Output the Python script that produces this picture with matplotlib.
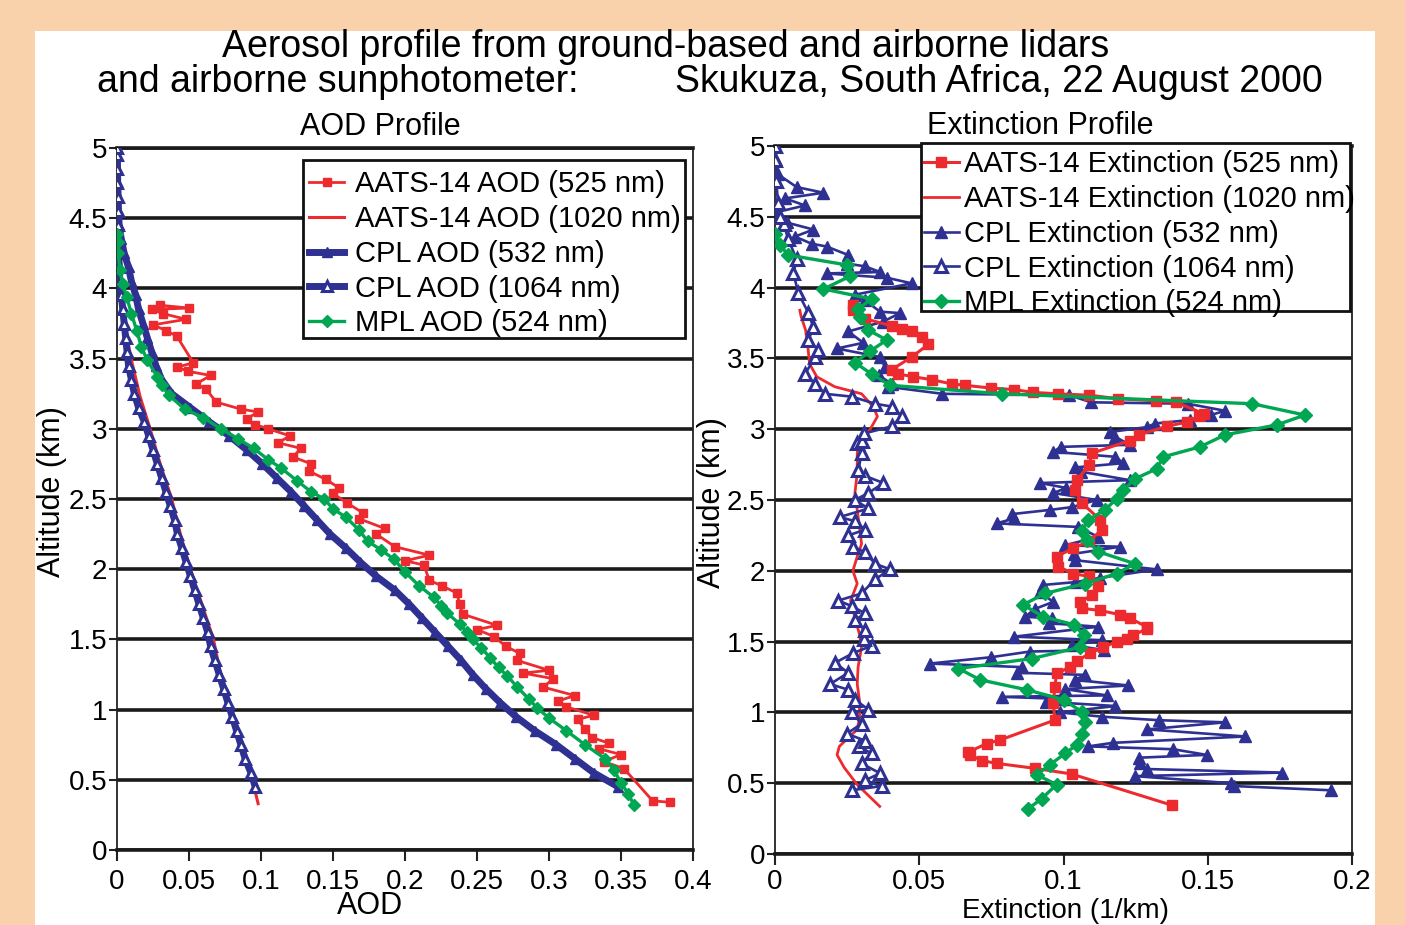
import matplotlib
matplotlib.use("Agg")
import matplotlib.pyplot as plt
from matplotlib.patches import Rectangle
from matplotlib.ticker import FuncFormatter, MultipleLocator

plt.rcParams['font.family'] = ['Liberation Sans', 'DejaVu Sans']

# ---------------- data: AOD profile (left) ----------------
aats525_aod_alt = [0.34, 0.35, 0.58, 0.63, 0.68, 0.72, 0.76, 0.80, 0.86, 0.93, 0.96, 1.02, 1.06, 1.10,
                   1.16, 1.22, 1.26, 1.28, 1.35, 1.40, 1.45, 1.52, 1.57, 1.60, 1.68, 1.75, 1.83, 1.88,
                   1.92, 2.03, 2.06, 2.10, 2.16, 2.25, 2.29, 2.36, 2.40, 2.47, 2.54, 2.58, 2.64, 2.70,
                   2.75, 2.80, 2.86, 2.90, 2.95, 3.00, 3.03, 3.07, 3.12, 3.14, 3.19, 3.28, 3.32, 3.38,
                   3.41, 3.44, 3.47, 3.66, 3.70, 3.74, 3.78, 3.82, 3.85, 3.86, 3.88]
aats525_aod = [0.384, 0.372, 0.352, 0.338, 0.350, 0.335, 0.342, 0.330, 0.325, 0.320, 0.331, 0.312, 0.306,
               0.318, 0.296, 0.303, 0.282, 0.300, 0.278, 0.280, 0.270, 0.262, 0.250, 0.264, 0.240, 0.238,
               0.236, 0.226, 0.217, 0.213, 0.200, 0.217, 0.193, 0.180, 0.186, 0.168, 0.171, 0.160, 0.150,
               0.154, 0.145, 0.133, 0.135, 0.122, 0.128, 0.112, 0.120, 0.105, 0.096, 0.090, 0.098, 0.086,
               0.069, 0.062, 0.055, 0.065, 0.049, 0.042, 0.053, 0.0415, 0.034, 0.025, 0.048, 0.032, 0.024,
               0.050, 0.030]

aats1020_aod_alt = [0.33, 0.50, 0.75, 1.00, 1.25, 1.50, 1.75, 2.00, 2.25, 2.50, 2.75, 3.00, 3.23, 3.49, 3.70, 3.87]
aats1020_aod = [0.098, 0.094, 0.087, 0.079, 0.072, 0.067, 0.059, 0.051, 0.044, 0.038, 0.030, 0.023, 0.016,
                0.010, 0.006, 0.004]

cpl_alt = [0.45, 0.55, 0.65, 0.75, 0.85, 0.95, 1.05, 1.15, 1.25, 1.35, 1.45, 1.55, 1.65, 1.75, 1.85, 1.95,
           2.05, 2.15, 2.25, 2.35, 2.45, 2.55, 2.65, 2.75, 2.85, 2.95, 3.05, 3.15, 3.25, 3.35, 3.45, 3.55,
           3.65, 3.75, 3.85, 3.95, 4.05, 4.15, 4.25, 4.35, 4.45, 4.55, 4.65, 4.75, 4.85, 4.95, 5.0]
cpl532_aod = [0.348, 0.331, 0.318, 0.305, 0.290, 0.277, 0.266, 0.256, 0.247, 0.239, 0.230, 0.221, 0.212,
              0.203, 0.193, 0.180, 0.169, 0.159, 0.148, 0.139, 0.130, 0.121, 0.111, 0.101, 0.090, 0.078,
              0.064, 0.051, 0.038, 0.031, 0.027, 0.024, 0.021, 0.018, 0.015, 0.013, 0.010, 0.008, 0.005,
              0.003, 0.0015, 0.001, 0.0008, 0.0005, 0.0003, 0.0002, 0.0]
cpl1064_aod = [0.096, 0.093, 0.089, 0.086, 0.083, 0.080, 0.077, 0.074, 0.071, 0.068, 0.065, 0.063, 0.060,
               0.057, 0.054, 0.051, 0.048, 0.045, 0.042, 0.040, 0.037, 0.034, 0.031, 0.028, 0.025, 0.022,
               0.019, 0.015, 0.012, 0.010, 0.008, 0.007, 0.006, 0.005, 0.004, 0.003, 0.002, 0.0016, 0.0012,
               0.001, 0.0008, 0.0006, 0.0004, 0.0003, 0.0002, 0.0001, 0.0]

mpl_aod_alt = [0.32, 0.40, 0.48, 0.57, 0.65, 0.75, 0.85, 0.94, 1.01, 1.075, 1.16, 1.24, 1.30, 1.37, 1.44,
               1.50, 1.55, 1.61, 1.69, 1.74, 1.80, 1.88, 1.98, 2.07, 2.14, 2.20, 2.28, 2.37, 2.43, 2.50,
               2.55, 2.63, 2.72, 2.78, 2.86, 2.93, 3.00, 3.08, 3.14, 3.24, 3.31, 3.37, 3.49, 3.58, 3.70,
               3.82, 3.94, 4.03, 4.13, 4.25, 4.33, 4.39]
mpl_aod = [0.359, 0.355, 0.350, 0.345, 0.339, 0.325, 0.312, 0.300, 0.292, 0.286, 0.278, 0.271, 0.265,
           0.259, 0.253, 0.247, 0.243, 0.238, 0.229, 0.225, 0.220, 0.210, 0.200, 0.1925, 0.183, 0.174,
           0.168, 0.159, 0.150, 0.144, 0.135, 0.125, 0.114, 0.105, 0.095, 0.084, 0.072, 0.060, 0.047,
           0.036, 0.031, 0.028, 0.021, 0.017, 0.0137, 0.010, 0.0067, 0.004, 0.002, 0.001, 0.0005, 0.0]

# ---------------- data: Extinction profile (right) ----------------
aats525_ext_alt = [0.345, 0.565, 0.605, 0.64, 0.66, 0.70, 0.72, 0.78, 0.805, 0.946, 1.065, 1.18, 1.275,
                   1.32, 1.36, 1.42, 1.46, 1.50, 1.52, 1.545, 1.59, 1.605, 1.665, 1.69, 1.72, 1.735, 1.78,
                   1.83, 1.89, 1.96, 1.98, 2.03, 2.10, 2.16, 2.21, 2.29, 2.36, 2.48, 2.57, 2.64, 2.75, 2.83,
                   2.92, 2.96, 3.02, 3.05, 3.09, 3.11, 3.19, 3.20, 3.215, 3.24, 3.25, 3.26, 3.28, 3.29, 3.31,
                   3.32, 3.35, 3.37, 3.39, 3.42, 3.51, 3.60, 3.65, 3.69, 3.71, 3.73, 3.78, 3.84, 3.88]
aats525_ext = [0.1375, 0.1028, 0.0901, 0.0768, 0.0716, 0.0676, 0.067, 0.0734, 0.078, 0.097, 0.0965, 0.097,
               0.0976, 0.1023, 0.1046, 0.1092, 0.1138, 0.1184, 0.1219, 0.1242, 0.1288, 0.1288, 0.123, 0.1196,
               0.1127, 0.1063, 0.1057, 0.110, 0.112, 0.109, 0.1034, 0.0982, 0.0976, 0.1034, 0.109, 0.1132,
               0.1127, 0.1063, 0.104, 0.1046, 0.109, 0.1098, 0.123, 0.126, 0.1358, 0.1427, 0.147, 0.1486,
               0.139, 0.132, 0.119, 0.109, 0.098, 0.0893, 0.083, 0.075, 0.0659, 0.0612, 0.0543, 0.048,
               0.0428, 0.0404, 0.0474, 0.0532, 0.0508, 0.0474, 0.0439, 0.0404, 0.0312, 0.0272, 0.0272]

aats1020_ext_alt = [0.336, 0.49, 0.61, 0.70, 0.76, 0.82, 0.88, 0.96, 1.08, 1.20, 1.32, 1.46, 1.55, 1.67,
                    1.79, 1.91, 2.00, 2.10, 2.19, 2.31, 2.43, 2.55, 2.69, 2.83, 2.92, 3.00, 3.09, 3.16, 3.25,
                    3.30, 3.37, 3.46, 3.58, 3.70, 3.80, 3.84]
aats1020_ext = [0.0363, 0.0285, 0.024, 0.0215, 0.0223, 0.0254, 0.0285, 0.0293, 0.0293, 0.0285, 0.0288, 0.030,
                0.0293, 0.0277, 0.0262, 0.0285, 0.027, 0.0285, 0.030, 0.0293, 0.0285, 0.0277, 0.0285, 0.0285,
                0.0293, 0.033, 0.0355, 0.034, 0.030, 0.0207, 0.0145, 0.012, 0.0114, 0.0106, 0.009, 0.0086]

cpl532_ext_alt = [0.45, 0.48, 0.50, 0.55, 0.575, 0.60, 0.64, 0.68, 0.70, 0.74, 0.76, 0.785, 0.83, 0.88, 0.93,
                  0.945, 0.97, 1.00, 1.045, 1.075, 1.095, 1.11, 1.12, 1.165, 1.19, 1.23, 1.265, 1.28, 1.32,
                  1.345, 1.39, 1.43, 1.44, 1.475, 1.51, 1.535, 1.605, 1.63, 1.665, 1.675, 1.73, 1.78, 1.85,
                  1.90, 1.92, 1.95, 2.01, 2.075, 2.12, 2.17, 2.18, 2.24, 2.31, 2.335, 2.37, 2.40, 2.43, 2.45,
                  2.50, 2.55, 2.585, 2.62, 2.64, 2.70, 2.73, 2.76, 2.805, 2.84, 2.875, 2.89, 2.945, 2.98,
                  3.015, 3.04, 3.065, 3.10, 3.13, 3.18, 3.19, 3.24, 3.25, 3.30, 3.32, 3.38, 3.44, 3.51, 3.57,
                  3.61, 3.69, 3.76, 3.82, 3.83, 3.91, 3.95, 4.03, 4.07, 4.10, 4.11, 4.15, 4.17, 4.23, 4.29,
                  4.31, 4.36, 4.41, 4.46, 4.53, 4.58, 4.63, 4.67, 4.71, 4.80, 4.90, 5.00]
cpl532_ext = [0.1927, 0.159, 0.158, 0.1248, 0.1756, 0.129, 0.1265, 0.126, 0.1496, 0.138, 0.1086, 0.117,
              0.163, 0.129, 0.156, 0.133, 0.1132, 0.0988, 0.118, 0.094, 0.100, 0.0786, 0.115, 0.1005, 0.1225,
              0.104, 0.1075, 0.084, 0.0855, 0.0537, 0.075, 0.0884, 0.114, 0.103, 0.1132, 0.083, 0.112, 0.095,
              0.096, 0.0867, 0.090, 0.0964, 0.092, 0.093, 0.104, 0.1127, 0.1323, 0.104, 0.1035, 0.1196,
              0.1005, 0.112, 0.105, 0.0768, 0.083, 0.082, 0.0953, 0.103, 0.1115, 0.0965, 0.101, 0.092, 0.123,
              0.106, 0.104, 0.1207, 0.118, 0.0965, 0.099, 0.123, 0.118, 0.116, 0.129, 0.1317, 0.1438, 0.151,
              0.156, 0.143, 0.1096, 0.102, 0.058, 0.039, 0.0404, 0.036, 0.0381, 0.0364, 0.0214, 0.0306,
              0.0254, 0.0375, 0.0433, 0.0364, 0.0312, 0.0277, 0.0474, 0.0387, 0.0179, 0.0364, 0.0312, 0.0249,
              0.0254, 0.0179, 0.0127, 0.0069, 0.0133, 0.004, 0.0, 0.0104, 0.0035, 0.0168, 0.0075, 0.001,
              0.0005, 0.0]

cpl1064_ext_alt = [0.45, 0.48, 0.52, 0.57, 0.64, 0.71, 0.76, 0.80, 0.85, 0.92, 1.00, 1.02, 1.09, 1.16, 1.20,
                   1.28, 1.35, 1.42, 1.47, 1.52, 1.58, 1.65, 1.70, 1.75, 1.79, 1.84, 1.94, 2.01, 2.05, 2.13,
                   2.17, 2.25, 2.29, 2.35, 2.38, 2.44, 2.50, 2.55, 2.62, 2.67, 2.71, 2.83, 2.90, 2.92, 2.97,
                   3.02, 3.09, 3.16, 3.18, 3.23, 3.25, 3.32, 3.39, 3.51, 3.56, 3.63, 3.72, 3.82, 3.96, 4.10,
                   4.20, 4.34, 4.45, 4.50, 4.60, 4.75, 4.90, 5.00]
cpl1064_ext = [0.0266, 0.037, 0.0312, 0.0364, 0.030, 0.0335, 0.029, 0.0312, 0.0249, 0.030, 0.0266, 0.0324,
               0.0277, 0.0254, 0.0191, 0.0254, 0.0208, 0.0272, 0.0335, 0.031, 0.0312, 0.0277, 0.0312, 0.0266,
               0.0220, 0.030, 0.0347, 0.0399, 0.0347, 0.0312, 0.0272, 0.0254, 0.0312, 0.0277, 0.0225, 0.0324,
               0.0277, 0.0324, 0.0376, 0.0312, 0.0289, 0.030, 0.0283, 0.030, 0.031, 0.0404, 0.0439, 0.0404,
               0.0347, 0.0266, 0.0173, 0.0139, 0.0104, 0.0139, 0.015, 0.0116, 0.0133, 0.0116, 0.0081, 0.0064,
               0.0075, 0.0046, 0.003, 0.0017, 0.001, 0.0005, 0.0, 0.0]

mpl_ext_alt = [0.32, 0.39, 0.49, 0.56, 0.63, 0.71, 0.77, 0.85, 0.93, 1.005, 1.09, 1.16, 1.23, 1.31, 1.38,
               1.46, 1.545, 1.62, 1.675, 1.76, 1.84, 1.91, 1.98, 2.05, 2.135, 2.22, 2.28, 2.36, 2.43, 2.51,
               2.57, 2.65, 2.72, 2.805, 2.875, 2.96, 3.03, 3.10, 3.18, 3.25, 3.31, 3.39, 3.47, 3.55, 3.63,
               3.70, 3.79, 3.85, 3.92, 3.99, 4.08, 4.16, 4.23, 4.30, 4.38]
mpl_ext = [0.0878, 0.0924, 0.0976, 0.0907, 0.0953, 0.1005, 0.1046, 0.1063, 0.1075, 0.1063, 0.100, 0.0872,
           0.0711, 0.0636, 0.089, 0.1057, 0.107, 0.1035, 0.093, 0.086, 0.0936, 0.1075, 0.1184, 0.1248,
           0.112, 0.108, 0.1063, 0.1086, 0.1144, 0.1184, 0.1207, 0.1248, 0.1323, 0.1346, 0.1473, 0.156,
           0.1739, 0.1837, 0.1654, 0.0786, 0.0399, 0.0335, 0.0277, 0.0329, 0.0387, 0.0324, 0.0295, 0.0289,
           0.0335, 0.0168, 0.026, 0.0249, 0.0046, 0.0017, 0.0]

left_labels = ["AATS-14 AOD (525 nm)", "AATS-14 AOD (1020 nm)", "CPL AOD (532 nm)",
               "CPL AOD (1064 nm)", "MPL AOD (524 nm)"]
right_labels = ["AATS-14 Extinction (525 nm)", "AATS-14 Extinction (1020 nm)", "CPL Extinction (532 nm)",
                "CPL Extinction (1064 nm)", "MPL Extinction (524 nm)"]
y_ticks = [0, 0.5, 1, 1.5, 2, 2.5, 3, 3.5, 4, 4.5, 5]

RED = '#ED2B2F'
BLUE = '#2E3192'
GREEN = '#00A651'
PEACH = '#F9D2AC'

W, H = 1405, 925
fig = plt.figure(figsize=(W / 100, H / 100), dpi=100, facecolor=PEACH)
fig.patches.append(Rectangle((35 / W, 0), (1375 - 35) / W, 1 - 31 / H, transform=fig.transFigure,
                             facecolor='white', edgecolor='none', zorder=-10))


def px_axes(x0, x1, ytop, ybot):
    return fig.add_axes([x0 / W, 1 - ybot / H, (x1 - x0) / W, (ybot - ytop) / H])


fmt = FuncFormatter(lambda v, p: '%g' % v)


def style(ax, xmax, xstep, xpad):
    ax.set_facecolor('white')
    ax.set_xlim(0, xmax)
    ax.set_ylim(0, 5)
    ax.set_yticks(y_ticks)
    ax.xaxis.set_major_locator(MultipleLocator(xstep))
    ax.xaxis.set_major_formatter(fmt)
    ax.yaxis.set_major_formatter(fmt)
    ax.tick_params(axis='both', labelsize=20, direction='out', color='#222222', width=1.5)
    ax.tick_params(axis='x', length=8, pad=xpad)
    ax.tick_params(axis='y', length=6, pad=1)
    for side in ('left', 'right'):
        ax.spines[side].set_linewidth(1.3)
        ax.spines[side].set_color('#222222')
    for side in ('top', 'bottom'):
        ax.spines[side].set_linewidth(2.6)
        ax.spines[side].set_color('#1a1a1a')
    ax.set_axisbelow(True)
    ax.yaxis.grid(True, color='#1a1a1a', linewidth=2.6)
    ax.xaxis.grid(False)


def legend_box(ax, x0, x1, ytop, ybot, anchor_x, anchor_y, textpad):
    ax.add_patch(Rectangle((x0 / W, 1 - ybot / H), (x1 - x0) / W, (ybot - ytop) / H,
                           transform=fig.transFigure, facecolor='white', edgecolor='#111111',
                           linewidth=2.0, clip_on=False, zorder=6))
    leg = ax.legend(loc='upper left', bbox_to_anchor=(anchor_x / W, 1 - anchor_y / H),
                    bbox_transform=fig.transFigure, fontsize=21, frameon=False, borderpad=0,
                    borderaxespad=0, labelspacing=0.23, handlelength=1.2, handletextpad=textpad)
    leg.set_zorder(7)
    return leg


# ---------------- left: AOD profile ----------------
axL = px_axes(117, 693, 148, 850)
style(axL, 0.4, 0.05, 6)
axL.plot(aats525_aod, aats525_aod_alt, color=RED, lw=2.0, marker='s', ms=6, mec=RED, mfc=RED,
         label=left_labels[0], zorder=3)
axL.plot(aats1020_aod, aats1020_aod_alt, color=RED, lw=2.2, label=left_labels[1], zorder=3)
axL.plot(cpl532_aod, cpl_alt, color=BLUE, lw=5, marker='^', ms=7.5, mec=BLUE, mfc=BLUE,
         label=left_labels[2], zorder=4)
axL.plot(cpl1064_aod, cpl_alt, color=BLUE, lw=5, marker='^', ms=7.5, mec=BLUE, mfc='white', mew=2.2,
         label=left_labels[3], zorder=4)
axL.plot(mpl_aod, mpl_aod_alt, color=GREEN, lw=2.4, marker='D', ms=6.5, mec=GREEN, mfc=GREEN,
         label=left_labels[4], zorder=5)
axL.set_xlabel('AOD', fontsize=22)
axL.xaxis.set_label_coords(0.44, -0.080)
axL.xaxis.label.set_va('center')
axL.set_ylabel('Altitude (km)', fontsize=22)
axL.yaxis.set_label_coords(-0.112, 0.51)
axL.yaxis.label.set_va('center')
axL.text(0.457, 1.03, 'AOD Profile', transform=axL.transAxes, ha='center', va='center', fontsize=22)
legend_box(axL, 303, 685, 160, 338, 309, 170.5, 0.38)

# ---------------- right: Extinction profile ----------------
axR = px_axes(775, 1352, 146, 854)
style(axR, 0.2, 0.05, 3)
axR.plot(aats525_ext, aats525_ext_alt, color=RED, lw=2.2, marker='s', ms=6.5, mec=RED, mfc=RED,
         label=right_labels[0], zorder=4)
axR.plot(aats1020_ext, aats1020_ext_alt, color=RED, lw=2.0, label=right_labels[1], zorder=3)
axR.plot(cpl532_ext, cpl532_ext_alt, color=BLUE, lw=1.9, marker='^', ms=9, mec=BLUE, mfc=BLUE,
         label=right_labels[2], zorder=3)
axR.plot(cpl1064_ext, cpl1064_ext_alt, color=BLUE, lw=1.9, marker='^', ms=9, mec=BLUE, mfc='white',
         mew=2.2, label=right_labels[3], zorder=3)
axR.plot(mpl_ext, mpl_ext_alt, color=GREEN, lw=2.4, marker='D', ms=7.5, mec=GREEN, mfc=GREEN,
         label=right_labels[4], zorder=5)
axR.set_xlabel('Extinction (1/km)', fontsize=20)
axR.xaxis.set_label_coords(0.503, -0.0985)
axR.xaxis.label.set_va('bottom')
axR.set_ylabel('Altitude (km)', fontsize=22)
axR.yaxis.set_label_coords(-0.109, 0.496)
axR.yaxis.label.set_va('center')
axR.text(0.459, 1.028, 'Extinction Profile', transform=axR.transAxes, ha='center', va='center', fontsize=22)
legend_box(axR, 921, 1350, 143, 311, 924, 150.5, 0.17)

# ---------------- main title ----------------
fig.text(666 / W, 1 - 47 / H, 'Aerosol profile from ground-based and airborne lidars',
         ha='center', va='center', fontsize=27)
fig.text(97 / W, 1 - 82 / H, 'and airborne sunphotometer:', ha='left', va='center', fontsize=27)
fig.text(675 / W, 1 - 82 / H, 'Skukuza, South Africa, 22 August 2000', ha='left', va='center', fontsize=27)

fig.savefig('out.png', dpi=100, facecolor=PEACH)
